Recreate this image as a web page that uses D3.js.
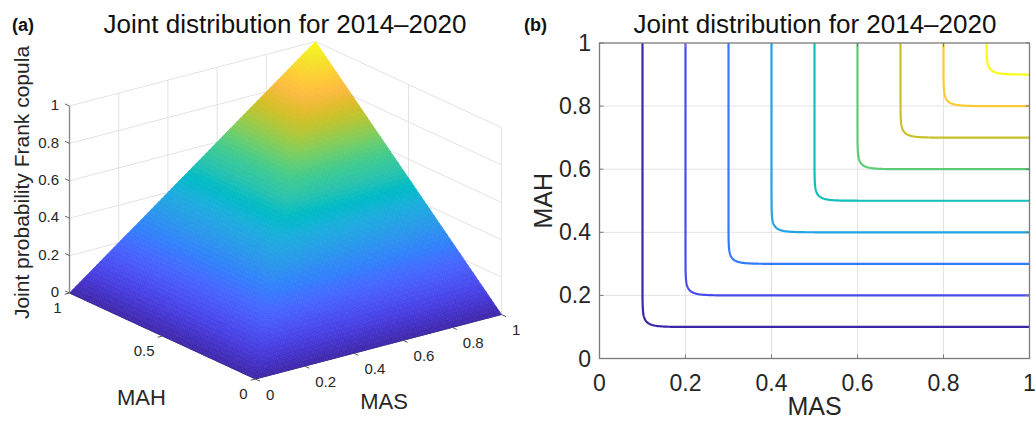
<!DOCTYPE html>
<html>
<head>
<meta charset="utf-8">
<script src="https://cdn.jsdelivr.net/npm/d3@7"></script>
<style>
  body { margin: 0; background: #fff; }
  svg { display: block; font-family: "Liberation Sans", Arial, Helvetica, sans-serif; }
</style>
</head>
<body>
<svg id="fig" width="1035" height="421"></svg>
<script>
// ---- data -------------------------------------------------------------
// Frank copula dependence parameter for MAS / MAH, 2014–2020
const theta = [55];
// iso-probability levels drawn in panel (b)
const contourLevels = [0.1, 0.2, 0.3, 0.4, 0.5, 0.6, 0.7, 0.8, 0.9];
// tick values and labels
const masTicks3d = [0, 0.2, 0.4, 0.6, 0.8, 1];
const masLabels3d = ["0", "0.2", "0.4", "0.6", "0.8", "1"];
const mahTicks3d = [0, 0.5, 1];
const mahLabels3d = ["0", "0.5", "1"];
const zTicks3d = [0, 0.2, 0.4, 0.6, 0.8, 1];
const zLabels3d = ["0", "0.2", "0.4", "0.6", "0.8", "1"];
const ticks2d = [0, 0.2, 0.4, 0.6, 0.8, 1];
const labels2d = ["0", "0.2", "0.4", "0.6", "0.8", "1"];

// parula colormap (64 entries)
const parulaRows = [
[0.2422,0.1504,0.6603],[0.2504,0.1650,0.7076],[0.2578,0.1818,0.7511],[0.2647,0.1978,0.7952],
[0.2706,0.2147,0.8364],[0.2751,0.2342,0.8710],[0.2783,0.2559,0.8991],[0.2803,0.2782,0.9221],
[0.2813,0.3006,0.9414],[0.2810,0.3228,0.9579],[0.2795,0.3447,0.9717],[0.2760,0.3667,0.9829],
[0.2699,0.3892,0.9906],[0.2602,0.4123,0.9952],[0.2440,0.4358,0.9988],[0.2206,0.4603,0.9973],
[0.1963,0.4847,0.9892],[0.1834,0.5074,0.9798],[0.1786,0.5289,0.9682],[0.1764,0.5499,0.9520],
[0.1687,0.5703,0.9359],[0.1540,0.5902,0.9218],[0.1460,0.6091,0.9079],[0.1380,0.6276,0.8973],
[0.1248,0.6459,0.8883],[0.1113,0.6635,0.8763],[0.0952,0.6798,0.8598],[0.0689,0.6948,0.8394],
[0.0297,0.7082,0.8163],[0.0036,0.7203,0.7917],[0.0067,0.7312,0.7660],[0.0433,0.7411,0.7394],
[0.0964,0.7500,0.7120],[0.1408,0.7584,0.6842],[0.1717,0.7670,0.6554],[0.1938,0.7758,0.6251],
[0.2161,0.7843,0.5923],[0.2470,0.7918,0.5567],[0.2906,0.7973,0.5188],[0.3406,0.8008,0.4789],
[0.3909,0.8029,0.4354],[0.4456,0.8024,0.3909],[0.5044,0.7993,0.3480],[0.5616,0.7942,0.3045],
[0.6174,0.7876,0.2612],[0.6720,0.7793,0.2227],[0.7242,0.7698,0.1910],[0.7738,0.7598,0.1646],
[0.8203,0.7498,0.1535],[0.8634,0.7406,0.1596],[0.9035,0.7330,0.1774],[0.9393,0.7288,0.2100],
[0.9728,0.7298,0.2394],[0.9956,0.7434,0.2371],[0.9970,0.7659,0.2199],[0.9952,0.7893,0.2028],
[0.9892,0.8136,0.1885],[0.9786,0.8386,0.1766],[0.9676,0.8639,0.1643],[0.9610,0.8890,0.1537],
[0.9597,0.9135,0.1423],[0.9628,0.9373,0.1265],[0.9691,0.9606,0.1064],[0.9769,0.9839,0.0805]];
const parula = d3.scaleLinear()
  .domain(parulaRows.map((_, i) => i / (parulaRows.length - 1)))
  .range(parulaRows.map(r => d3.rgb(r[0] * 255, r[1] * 255, r[2] * 255).toString()))
  .clamp(true);

// Frank copula CDF C(u,v), written to stay accurate for large theta
function frankCDF(u, v) {
  const t = theta[0];
  const E = Math.exp(-t);
  const a = Math.exp(-t * u), b = Math.exp(-t * v);
  const num = a * (-Math.expm1(-t * v)) + (b - E);
  if (num <= 0) return 0;
  return -Math.log(num / (1 - E)) / t;
}

const svg = d3.select("#fig");
const FONT_DARK = "#262626";

// ---- panel (a): 3-D surface -------------------------------------------
const origin = [255.5, 379];               // screen point of (MAS=0, MAH=0, z=0)
const uX = d3.scaleLinear([0, 1], [0, 246]), uY = d3.scaleLinear([0, 1], [0, -64.5]);
const vX = d3.scaleLinear([0, 1], [0, -186]), vY = d3.scaleLinear([0, 1], [0, -86]);
const zY = d3.scaleLinear([0, 1], [0, -187]);
const proj = (u, v, z) => [origin[0] + uX(u) + vX(v), origin[1] + uY(u) + vY(v) + zY(z)];

const gA = svg.append("g");
const gridColor = "#e3e3e3";
const line = d3.line();

// back wall at MAH = 1 (spans MAS and z)
masTicks3d.forEach(u => {
  if (u === 0) return;
  gA.append("path").attr("d", line([proj(u, 1, 0), proj(u, 1, 1)]))
    .attr("stroke", gridColor).attr("fill", "none");
});
zTicks3d.forEach(z => {
  gA.append("path").attr("d", line([proj(0, 1, z), proj(1, 1, z)]))
    .attr("stroke", gridColor).attr("fill", "none");
});
// back wall at MAS = 1 (spans MAH and z)
mahTicks3d.forEach(v => {
  gA.append("path").attr("d", line([proj(1, v, 0), proj(1, v, 1)]))
    .attr("stroke", gridColor).attr("fill", "none");
});
zTicks3d.forEach(z => {
  gA.append("path").attr("d", line([proj(1, 0, z), proj(1, 1, z)]))
    .attr("stroke", gridColor).attr("fill", "none");
});

// front axis lines on the floor
gA.append("path").attr("d", line([proj(0, 0, 0), proj(1, 0, 0)])).attr("stroke", "#555").attr("fill", "none");
gA.append("path").attr("d", line([proj(0, 0, 0), proj(0, 1, 0)])).attr("stroke", "#555").attr("fill", "none");

// surface C(u,v) on a regular grid, split into triangles
const N = 72;
const surfZ = [];
for (let i = 0; i <= N; i++) {
  surfZ.push([]);
  for (let j = 0; j <= N; j++) surfZ[i].push(frankCDF(i / N, j / N));
}
const tris = [];
for (let i = 0; i < N; i++) {
  for (let j = 0; j < N; j++) {
    const p = (a, b) => ({ u: a / N, v: b / N, z: surfZ[a][b] });
    const c00 = p(i, j), c10 = p(i + 1, j), c11 = p(i + 1, j + 1), c01 = p(i, j + 1);
    tris.push([c00, c10, c11]);
    tris.push([c00, c11, c01]);
  }
}
tris.forEach(t => { t.depth = d3.sum(t, q => q.u + q.v); t.zm = d3.mean(t, q => q.z); });
tris.sort((a, b) => b.depth - a.depth);
gA.append("g").selectAll("path").data(tris).join("path")
  .attr("d", t => line(t.map(q => proj(q.u, q.v, q.z))) + "Z")
  .attr("fill", t => parula(t.zm))
  .attr("stroke", t => parula(t.zm))
  .attr("stroke-width", 0.6)
  .attr("stroke-linejoin", "round");

// z axis (MAS=0, MAH=1)
gA.append("path").attr("d", line([proj(0, 1, 0), proj(0, 1, 1)]))
  .attr("stroke", "#8a8a8a").attr("stroke-width", 1.4).attr("fill", "none");

// ticks
const tickLen = 5;
const nEy = [-186, -86].map(c => c / Math.hypot(186, 86));
const nEx = [246, -64.5].map(c => c / Math.hypot(246, 64.5));
zTicks3d.forEach((z, k) => {
  const p = proj(0, 1, z);
  gA.append("path").attr("d", line([p, [p[0] + nEy[0] * tickLen, p[1] + nEy[1] * tickLen]]))
    .attr("stroke", "#666").attr("fill", "none");
  gA.append("text").attr("x", 59).attr("y", p[1] - 1).attr("dy", "0.35em")
    .attr("text-anchor", "end").attr("font-size", 15).attr("fill", FONT_DARK).text(zLabels3d[k]);
});
masTicks3d.forEach((u, k) => {
  const p = proj(u, 0, 0);
  gA.append("path").attr("d", line([p, [p[0] - nEy[0] * tickLen, p[1] - nEy[1] * tickLen]]))
    .attr("stroke", "#555").attr("fill", "none");
  gA.append("text").attr("x", p[0] + 10.5).attr("y", p[1] + 20.5)
    .attr("text-anchor", "start").attr("font-size", 15).attr("fill", FONT_DARK).text(masLabels3d[k]);
});
mahTicks3d.forEach((v, k) => {
  const p = proj(0, v, 0);
  gA.append("path").attr("d", line([p, [p[0] - nEx[0] * tickLen, p[1] - nEx[1] * tickLen]]))
    .attr("stroke", "#555").attr("fill", "none");
  gA.append("text").attr("x", p[0] - 8).attr("y", p[1] + 19.5)
    .attr("text-anchor", "end").attr("font-size", 15).attr("fill", FONT_DARK).text(mahLabels3d[k]);
});

// labels and title
gA.append("text").attr("x", 384).attr("y", 409).attr("text-anchor", "middle")
  .attr("font-size", 22).attr("fill", FONT_DARK).text("MAS");
gA.append("text").attr("x", 141.5).attr("y", 405).attr("text-anchor", "middle")
  .attr("font-size", 22).attr("fill", FONT_DARK).text("MAH");
gA.append("text").attr("transform", "translate(28.6,182.5) rotate(-90)").attr("text-anchor", "middle")
  .attr("font-size", 21).attr("fill", FONT_DARK).text("Joint probability Frank copula");
gA.append("text").attr("x", 285).attr("y", 33).attr("text-anchor", "middle")
  .attr("font-size", 26).attr("fill", "#111").text("Joint distribution for 2014–2020");
gA.append("text").attr("x", 12).attr("y", 31).attr("font-size", 18).attr("font-weight", "bold")
  .attr("fill", "#111").text("(a)");

// ---- panel (b): contour plot -------------------------------------------
const xS = d3.scaleLinear([0, 1], [599.5, 1029.5]);
const yS = d3.scaleLinear([0, 1], [358.5, 43]);
const gB = svg.append("g");

svg.append("defs").append("clipPath").attr("id", "plotClip").append("rect")
  .attr("x", xS(0)).attr("y", yS(1)).attr("width", xS(1) - xS(0)).attr("height", yS(0) - yS(1));

// grid
ticks2d.slice(1, -1).forEach(t => {
  gB.append("line").attr("x1", xS(t)).attr("x2", xS(t)).attr("y1", yS(0)).attr("y2", yS(1))
    .attr("stroke", gridColor);
  gB.append("line").attr("x1", xS(0)).attr("x2", xS(1)).attr("y1", yS(t)).attr("y2", yS(t))
    .attr("stroke", gridColor);
});

// contour lines from a sampled copula grid (extended past the unit square so
// that polygon borders fall outside the clip rectangle)
const lo = -0.05, hi = 1.05, n = 441, step = (hi - lo) / (n - 1);
const clamp01 = x => Math.max(0, Math.min(1, x));
const values = new Float64Array(n * n);
for (let j = 0; j < n; j++) {
  const v = clamp01(lo + j * step);
  for (let i = 0; i < n; i++) values[j * n + i] = frankCDF(clamp01(lo + i * step), v);
}
const contours = d3.contours().size([n, n]).thresholds(contourLevels)(values);
const gridToScreen = ([gx, gy]) => [xS(lo + (gx - 0.5) * step), yS(lo + (gy - 0.5) * step)];
const cMin = d3.min(contourLevels), cMax = d3.max(contourLevels);
gB.append("g").attr("clip-path", "url(#plotClip)")
  .selectAll("path").data(contours).join("path")
  .attr("d", c => c.coordinates.map(poly => poly.map(ring => line(ring.map(gridToScreen)) + "Z").join("")).join(""))
  .attr("fill", "none")
  .attr("stroke", c => parula((c.value - cMin) / (cMax - cMin)))
  .attr("stroke-width", 2.2)
  .attr("stroke-linejoin", "round");

// box and ticks
const axisCol = "#7a7a7a";
gB.append("rect").attr("x", xS(0)).attr("y", yS(1)).attr("width", xS(1) - xS(0)).attr("height", yS(0) - yS(1))
  .attr("fill", "none").attr("stroke", axisCol).attr("stroke-width", 1.3);
ticks2d.forEach((t, k) => {
  gB.append("line").attr("x1", xS(t)).attr("x2", xS(t)).attr("y1", yS(0)).attr("y2", yS(0) - 4).attr("stroke", axisCol);
  gB.append("line").attr("x1", xS(t)).attr("x2", xS(t)).attr("y1", yS(1)).attr("y2", yS(1) + 4).attr("stroke", axisCol);
  gB.append("line").attr("x1", xS(0)).attr("x2", xS(0) + 4).attr("y1", yS(t)).attr("y2", yS(t)).attr("stroke", axisCol);
  gB.append("line").attr("x1", xS(1)).attr("x2", xS(1) - 4).attr("y1", yS(t)).attr("y2", yS(t)).attr("stroke", axisCol);
  gB.append("text").attr("x", xS(t)).attr("y", 391).attr("text-anchor", "middle")
    .attr("font-size", 23).attr("fill", FONT_DARK).text(labels2d[k]);
  gB.append("text").attr("x", 591).attr("y", yS(t)).attr("dy", "0.35em").attr("text-anchor", "end")
    .attr("font-size", 23).attr("fill", FONT_DARK).text(labels2d[k]);
});

gB.append("text").attr("x", (xS(0) + xS(1)) / 2).attr("y", 415).attr("text-anchor", "middle")
  .attr("font-size", 25).attr("fill", FONT_DARK).text("MAS");
gB.append("text").attr("transform", `translate(552,${(yS(0) + yS(1)) / 2}) rotate(-90)`).attr("text-anchor", "middle")
  .attr("font-size", 25).attr("fill", FONT_DARK).text("MAH");
gB.append("text").attr("x", 815).attr("y", 33).attr("text-anchor", "middle")
  .attr("font-size", 26).attr("fill", "#111").text("Joint distribution for 2014–2020");
gB.append("text").attr("x", 524).attr("y", 31).attr("font-size", 18).attr("font-weight", "bold")
  .attr("fill", "#111").text("(b)");
</script>
</body>
</html>
